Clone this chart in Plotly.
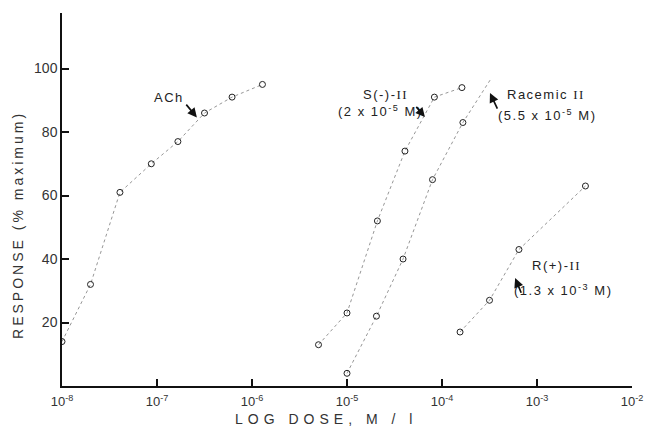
import plotly.graph_objects as go

# log10 dose (M) and response (% maximum)
ach_logdose = [-8.0, -7.70, -7.39, -7.06, -6.78, -6.50, -6.21, -5.89]
ach_resp = [14, 32, 61, 70, 77, 86, 91, 95]

s_logdose = [-5.30, -5.00, -4.68, -4.39, -4.08, -3.79]
s_resp = [13, 23, 52, 74, 91, 94]

rac_logdose = [-5.00, -4.69, -4.41, -4.10, -3.78]
rac_resp = [4, 22, 40, 65, 83]
rac_line_end = (-3.48, 97)  # hand-drawn line continues past last point

r_logdose = [-3.81, -3.50, -3.19, -2.49]
r_resp = [17, 27, 43, 63]

x_tickvals = [-8, -7, -6, -5, -4, -3, -2]
x_ticktext = ["10<sup>-8</sup>", "10<sup>-7</sup>", "10<sup>-6</sup>", "10<sup>-5</sup>",
              "10<sup>-4</sup>", "10<sup>-3</sup>", "10<sup>-2</sup>"]
y_tickvals = [20, 40, 60, 80, 100]

LINE = dict(color="#8a8a8a", width=0.9, dash="dot")
MARK = dict(symbol="circle-open", size=6, color="#222222", line=dict(width=1, color="#222222"))
FONT = "Liberation Sans, Arial, sans-serif"

fig = go.Figure()

def add_series(xs, ys, name, line_x=None, line_y=None):
    fig.add_trace(go.Scatter(x=line_x if line_x else xs, y=line_y if line_y else ys,
                             mode="lines", line=LINE, name=name, showlegend=False,
                             hoverinfo="skip"))
    fig.add_trace(go.Scatter(x=xs, y=ys, mode="markers", marker=MARK, name=name,
                             showlegend=False))

add_series(ach_logdose, ach_resp, "ACh")
add_series(s_logdose, s_resp, "S(-)-II")
add_series(rac_logdose, rac_resp, "Racemic II",
           line_x=rac_logdose + [rac_line_end[0]], line_y=rac_resp + [rac_line_end[1]])
add_series(r_logdose, r_resp, "R(+)-II")

II = '<span style="font-family:Liberation Serif">II</span>'
def sp(t, px=2):
    return f'<span style="letter-spacing:{px}px">{t}</span>'

texts = [
    ("ACh", -6.87, 91),
    ("S(-)-" + II, -4.60, 91.7),
    ("(2 x 10<sup>-5</sup> M)", -4.65, 86.7),
    ("Racemic " + II, -2.905, 91.7),
    ("(5.5 x 10<sup>-5</sup> M)", -2.90, 85.4),
    ("R(+)-" + II, -2.80, 38.1),
    ("(1.3 x 10<sup>-3</sup> M)", -2.73, 30.2),
]
for t, x, y in texts:
    fig.add_annotation(x=x, y=y, text=sp(t, 1.5), showarrow=False,
                       font=dict(family=FONT, size=13, color="#222222"))

arrows = [
    # (head_x, head_y, tail_x, tail_y)
    (-6.58, 84.6, -6.705, 89.1),
    (-4.18, 84.7, -4.284, 88.4),
    (-3.495, 92.3, -3.41, 86.9),
    (-3.23, 34.0, -3.16, 28.9),
]
for hx, hy, tx, ty in arrows:
    fig.add_annotation(x=hx, y=hy, ax=tx, ay=ty, xref="x", yref="y", axref="x", ayref="y",
                       showarrow=True, arrowhead=2, arrowsize=1.1, arrowwidth=1.7,
                       arrowcolor="#111111", text="")

# axis titles (placed as in the reference)
fig.add_annotation(x=0.463, y=-0.0885, xref="paper", yref="paper", showarrow=False,
                   xanchor="center", yanchor="middle",
                   text=sp("LOG DOSE, M / l", 5),
                   font=dict(family=FONT, size=14, color="#333333"))
fig.add_annotation(x=-0.077, y=0.432, xref="paper", yref="paper", showarrow=False,
                   xanchor="center", yanchor="middle",
                   textangle=-90, text=sp("RESPONSE (% maximum)", 3),
                   font=dict(family=FONT, size=14, color="#333333"))

fig.update_layout(
    width=645, height=435,
    margin=dict(l=62, r=13, t=13, b=49),
    plot_bgcolor="white", paper_bgcolor="white",
    font=dict(family=FONT, size=12, color="#222222"),
    xaxis=dict(range=[-8, -2], tickvals=x_tickvals, ticktext=x_ticktext,
               ticks="inside", ticklen=7, tickwidth=1.5, tickcolor="#111111",
               showline=True, linecolor="#111111", linewidth=1.5,
               showgrid=False, zeroline=False, automargin=False,
               ticklabeloverflow="allow", ticklabelstandoff=3,
               tickfont=dict(size=13, color="#333333")),
    yaxis=dict(range=[0, 117.5], tickvals=y_tickvals,
               ticks="inside", ticklen=7, tickwidth=1.5, tickcolor="#111111",
               showline=True, linecolor="#111111", linewidth=1.5,
               showgrid=False, zeroline=False, automargin=False,
               tickfont=dict(size=14, color="#333333")),
)

fig.write_html("out.html", config={"displayModeBar": False},
               post_script="document.body.style.margin='0';document.body.style.overflow='hidden';")
